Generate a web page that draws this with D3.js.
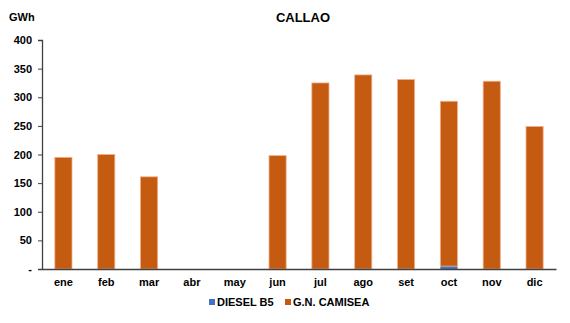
<!DOCTYPE html>
<html><head><meta charset="utf-8">
<script src="https://cdn.jsdelivr.net/npm/d3@7"></script>
<style>body{margin:0;background:#fff}svg{display:block}text{font-family:Arial,"Liberation Sans",sans-serif}</style>
</head><body><svg id="c" width="570" height="323"></svg>
<script>
const months = ["ene","feb","mar","abr","may","jun","jul","ago","set","oct","nov","dic"];
const dieselB5 = [0,0,0,0,0,0,0,0,0,5,0,0];
const gnCamisea = [195,200,161,0,0,198,325,339,331,288,328,249];
const seriesNames = ["DIESEL B5","G.N. CAMISEA"];
const seriesColors = ["#4472C4","#C55A11"];
const yTicks = [0,50,100,150,200,250,300,350,400];

const svg = d3.select("#c");
const m = {l:42, r:14, t:40, b:54};
const W = 570, H = 323;
const x = d3.scaleBand().domain(months).range([m.l, W-m.r]).paddingInner(0.6).paddingOuter(0.3);
const y = d3.scaleLinear().domain([0,400]).range([H-m.b, m.t]);

const data = months.map((mo,i)=>({month:mo, d:dieselB5[i], g:gnCamisea[i]}));
const stack = d3.stack().keys(["d","g"])(data);

svg.append("g").selectAll("g").data(stack).join("g")
  .attr("fill",(s,i)=>seriesColors[i])
  .attr("stroke",(s,i)=> i===1 ? "#F0B08A" : "none")
  .attr("stroke-width",0.8)
  .selectAll("rect").data(s=>s.filter(p=>p[1]-p[0]>0)).join("rect")
  .attr("x",p=>x(p.data.month))
  .attr("width",x.bandwidth())
  .attr("y",p=>y(p[1]))
  .attr("height",p=>y(p[0])-y(p[1]));

const yAxis = svg.append("g").attr("transform",`translate(${m.l},0)`)
  .call(d3.axisLeft(y).tickValues(yTicks).tickSize(4).tickFormat(v=>v===0?"-":v));
yAxis.select(".domain").attr("stroke","#404040").attr("stroke-width",1.3);
yAxis.selectAll(".tick line").attr("stroke","#404040");
yAxis.selectAll("text").attr("font-size",11).attr("font-weight","bold").attr("fill","#000").attr("x",-10);

const xAxis = svg.append("g").attr("transform",`translate(0,${y(0)})`)
  .call(d3.axisBottom(x).tickSize(0).tickPadding(9));
xAxis.select(".domain").attr("stroke","#404040").attr("stroke-width",1.3);
xAxis.selectAll("text").attr("font-size",11).attr("font-weight","bold").attr("fill","#000");

svg.append("text").attr("x",303).attr("y",22).attr("text-anchor","middle")
  .attr("font-size",13).attr("font-weight","bold").text("CALLAO");
svg.append("text").attr("x",9).attr("y",21)
  .attr("font-size",11).attr("font-weight","bold").text("GWh");

const leg = svg.append("g");
const legX = [209, 285];
seriesNames.forEach((n,i)=>{
  leg.append("rect").attr("x",legX[i]).attr("y",299).attr("width",6).attr("height",6).attr("fill",seriesColors[i]);
  leg.append("text").attr("x",legX[i]+8).attr("y",306).attr("font-size",11).attr("font-weight","bold").text(n);
});
</script></body></html>
